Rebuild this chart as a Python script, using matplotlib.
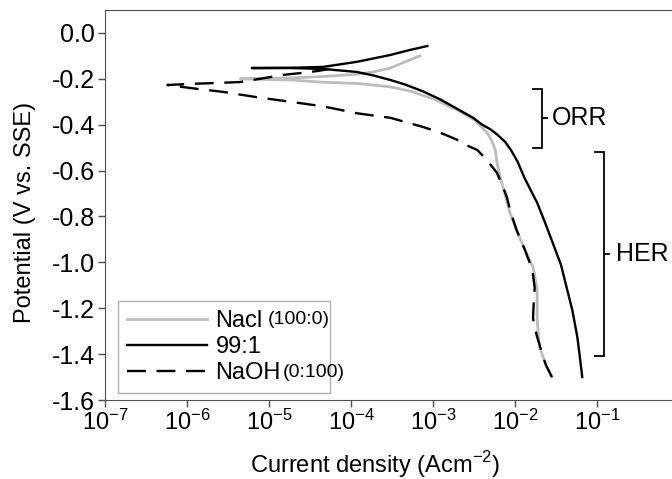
import numpy as np
import matplotlib
matplotlib.use('Agg')
import matplotlib.pyplot as plt

plt.rcParams['font.family'] = ['Liberation Sans', 'DejaVu Sans']
plt.rcParams['mathtext.fontset'] = 'custom'
plt.rcParams['mathtext.rm'] = 'Liberation Sans'
plt.rcParams['axes.unicode_minus'] = False

# log10 of current density (A cm-2) and potential (V vs. SSE), cathodic end -> anodic tip
nacl_logi = [-1.55, -1.62, -1.70, -1.72, -1.73, -1.73, -1.73, -1.76, -1.78, -1.88, -1.98,
             -2.06, -2.12, -2.18, -2.22, -2.24, -2.29, -2.34, -2.49, -2.71, -2.98, -3.26,
             -3.52, -3.93, -4.34, -4.74, -5.35,
             -4.74, -4.34, -3.93, -3.73, -3.52, -3.34, -3.16]
nacl_e = [-1.50, -1.45, -1.37, -1.295, -1.24, -1.165, -1.12, -1.055, -1.02, -0.945, -0.86,
          -0.785, -0.705, -0.63, -0.565, -0.51, -0.465, -0.435, -0.38, -0.335, -0.29, -0.255,
          -0.235, -0.22, -0.215, -0.205, -0.20,
          -0.196, -0.19, -0.18, -0.17, -0.153, -0.126, -0.10]

mix_logi = [-1.18, -1.21, -1.24, -1.30, -1.37, -1.44, -1.54, -1.63, -1.73, -1.88, -1.97,
            -2.05, -2.12, -2.21, -2.30, -2.40, -2.51, -2.71, -2.91, -3.12, -3.34, -3.52,
            -3.73, -3.93, -4.34, -4.74, -5.21,
            -4.74, -4.34, -3.93, -3.71, -3.52, -3.28, -3.07]
mix_e = [-1.50, -1.41, -1.325, -1.21, -1.11, -1.01, -0.915, -0.83, -0.74, -0.635, -0.56,
         -0.51, -0.475, -0.445, -0.42, -0.40, -0.37, -0.33, -0.29, -0.255, -0.225, -0.205,
         -0.185, -0.17, -0.157, -0.153, -0.153,
         -0.152, -0.148, -0.126, -0.11, -0.096, -0.074, -0.057]

naoh_logi = [-1.55, -1.62, -1.66, -1.70, -1.73, -1.77, -1.78, -1.77, -1.76, -1.79, -1.88,
             -1.98, -2.05, -2.10, -2.16, -2.22, -2.34, -2.46, -2.59, -2.71, -2.91, -3.12,
             -3.52, -3.93, -4.34, -4.74, -5.15, -5.56, -5.96, -6.24,
             -5.96, -5.63, -5.35, -5.11, -4.83, -4.59, -4.41, -4.26]
naoh_e = [-1.50, -1.45, -1.41, -1.36, -1.325, -1.27, -1.24, -1.165, -1.11, -1.03, -0.945,
          -0.86, -0.785, -0.715, -0.66, -0.61, -0.555, -0.51, -0.49, -0.465, -0.435, -0.41,
          -0.37, -0.35, -0.32, -0.30, -0.28, -0.257, -0.24, -0.227,
          -0.222, -0.218, -0.214, -0.20, -0.183, -0.174, -0.166, -0.157]

labels = ['Nacl', '99:1', 'NaOH']
ratio_labels = ['(100:0)', '', '(0:100)']
x_ticks = [1e-7, 1e-6, 1e-5, 1e-4, 1e-3, 1e-2, 1e-1]
y_ticks = [0.0, -0.2, -0.4, -0.6, -0.8, -1.0, -1.2, -1.4, -1.6]

# bracket spans (potential range) for the two reaction regions
orr_span = (-0.244, -0.50)
her_span = (-0.52, -1.41)

fig = plt.figure(figsize=(6.72, 4.79), dpi=100)
ax = fig.add_axes([105 / 672, 79 / 479, 574 / 672, 390 / 479])

ax.plot(np.power(10.0, nacl_logi), nacl_e, color='#bdbdbd', lw=2.0, label=labels[0])
ax.plot(np.power(10.0, mix_logi), mix_e, color='black', lw=1.7, label=labels[1])
ax.plot(np.power(10.0, naoh_logi), naoh_e, color='black', lw=1.7, dashes=(8, 4.5),
        label=labels[2])

ax.set_xscale('log')
ax.set_xlim(1e-7, 1e0)
ax.set_ylim(-1.6, 0.1)
ax.set_xticks(x_ticks)
ax.xaxis.set_minor_locator(matplotlib.ticker.NullLocator())
ax.set_yticks(y_ticks)
ax.set_yticklabels([f'{v:.1f}' for v in y_ticks])

for side in ['left', 'bottom', 'top']:
    ax.spines[side].set_color('#505050')
ax.spines['right'].set_visible(False)
ax.tick_params(direction='out', length=5, width=1, color='#505050', pad=2)
ax.tick_params(axis='y', labelsize=18)
ax.tick_params(axis='x', labelsize=17)

ax.set_xlabel('Current density (Acm$^{-2}$)', fontsize=17)
ax.xaxis.set_label_coords(0.47, -0.125)
ax.set_ylabel('Potential (V vs. SSE)', fontsize=17)
ax.yaxis.set_label_coords(-0.12, 0.48)


def bracket(x_log, y_top, y_bot, hook=0.11, tip=0.06):
    xv = 10 ** x_log
    ym = (y_top + y_bot) / 2
    ax.plot([10 ** (x_log - hook), xv, xv, 10 ** (x_log - hook)],
            [y_top, y_top, y_bot, y_bot], color='black', lw=1.3, solid_joinstyle='miter')
    ax.plot([xv, 10 ** (x_log + tip)], [ym, ym], color='black', lw=1.3)
    return ym


orr_mid = bracket(-1.67, *orr_span)
her_mid = bracket(-0.915, *her_span)
ax.text(10 ** -1.55, orr_mid, 'ORR', fontsize=18, va='center', ha='left')
ax.text(10 ** -0.77, her_mid, 'HER', fontsize=18, va='center', ha='left')

leg = ax.legend(loc='lower left', bbox_to_anchor=(13 / 574, 7 / 390, 212 / 574, 0.2),
                mode='expand', borderaxespad=0, fontsize=17, handlelength=3.4,
                handletextpad=0.35, labelspacing=0.17, borderpad=0.38, fancybox=False,
                edgecolor='#b0b0b0', framealpha=1)
leg.get_frame().set_linewidth(1.0)

fig.canvas.draw()
inv = fig.transFigure.inverted()
for txt, extra in zip(leg.get_texts(), ratio_labels):
    if not extra:
        continue
    bb = txt.get_window_extent()
    gap = 5 if txt.get_text() == 'Nacl' else 2
    x, y = inv.transform((bb.x1 + gap, (bb.y0 + bb.y1) / 2 + 1))
    fig.text(x, y, extra, fontsize=14, va='center', ha='left')

fig.savefig('out.png', dpi=100)
